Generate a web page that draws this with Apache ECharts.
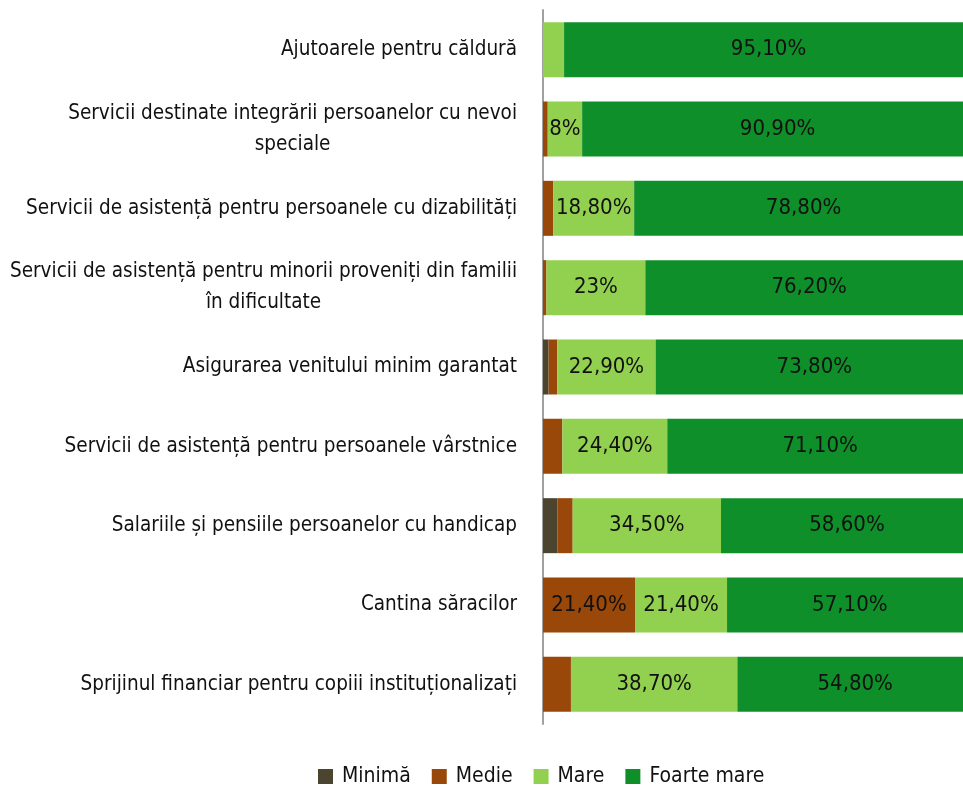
<!DOCTYPE html>
<html>
<head>
<meta charset="utf-8">
<style>
  html, body { margin: 0; padding: 0; background: #fff; }
  #chart { width: 963px; height: 785px; }
</style>
<script src="https://cdn.jsdelivr.net/npm/echarts@6/dist/echarts.min.js"></script>
</head>
<body>
<div id="chart"></div>
<script>
// Importance ratings per social service (percent of respondents)
const categories = [
  'Ajutoarele pentru căldură',
  'Servicii destinate integrării persoanelor cu nevoi\nspeciale',
  'Servicii de asistență pentru persoanele cu dizabilități',
  'Servicii de asistență pentru minorii proveniți din familii\nîn dificultate',
  'Asigurarea venitului minim garantat',
  'Servicii de asistență pentru persoanele vârstnice',
  'Salariile și pensiile persoanelor cu handicap',
  'Cantina săracilor',
  'Sprijinul financiar pentru copiii instituționalizați'
];
const seriesNames = ['Minimă', 'Medie', 'Mare', 'Foarte mare'];
const minima     = [0, 0, 0, 0, 1.3, 0, 3.4, 0, 0];
const medie      = [0, 1.1, 2.4, 0.8, 2.0, 4.5, 3.5, 21.4, 6.5];
const mare       = [4.9, 8, 18.8, 23, 22.9, 24.4, 34.5, 21.4, 38.7];
const foarteMare = [95.1, 90.9, 78.8, 76.2, 73.8, 71.1, 58.6, 57.1, 54.8];
const colors = ['#4b4530', '#9a470a', '#92d050', '#0f8f29'];

const FONT = '"DejaVu Sans Condensed", "DejaVu Sans", sans-serif';

// Romanian-style percentage: "95,10%", whole numbers as "8%"
function fmtPct(v) {
  if (Number.isInteger(v)) return v + '%';
  return v.toFixed(2).replace('.', ',') + '%';
}

const chart = echarts.init(document.getElementById('chart'), null, { renderer: 'canvas' });

const values = [minima, medie, mare, foarteMare];
const series = seriesNames.map((name, i) => ({
  name: name,
  type: 'bar',
  stack: 'total',
  barWidth: 55,
  itemStyle: { color: colors[i] },
  label: {
    show: true,
    position: 'inside',
    color: '#111',
    fontFamily: FONT,
    fontSize: 22,
    formatter: p => (p.value >= 8 ? fmtPct(p.value) : '')
  },
  emphasis: { disabled: true },
  data: values[i]
}));

chart.setOption({
  animation: false,
  backgroundColor: '#ffffff',
  grid: { left: 543, top: 10, width: 430, height: 714, outerBoundsMode: 'none', containLabel: false },
  xAxis: {
    type: 'value',
    min: 0,
    max: 100,
    show: false
  },
  yAxis: {
    type: 'category',
    inverse: true,
    data: categories,
    axisLine: { show: true, lineStyle: { color: '#a0a0a0', width: 2 } },
    axisTick: { show: false },
    splitLine: { show: false },
    axisLabel: {
      margin: 26,
      color: '#111',
      fontFamily: FONT,
      fontSize: 20.5,
      lineHeight: 31,
      formatter: v => v.split('\n').map(l => '{c|' + l + '}').join('\n'),
      rich: {
        c: { align: 'center', color: '#111', fontFamily: FONT, fontSize: 20.5, lineHeight: 31 }
      }
    }
  },
  legend: {
    data: seriesNames,
    top: 761,
    left: 313,
    icon: 'rect',
    itemWidth: 15,
    itemHeight: 15,
    itemGap: 21,
    textStyle: { color: '#111', fontFamily: FONT, fontSize: 21, padding: [0, 0, 0, 4] }
  },
  series: series
});
</script>
</body>
</html>
